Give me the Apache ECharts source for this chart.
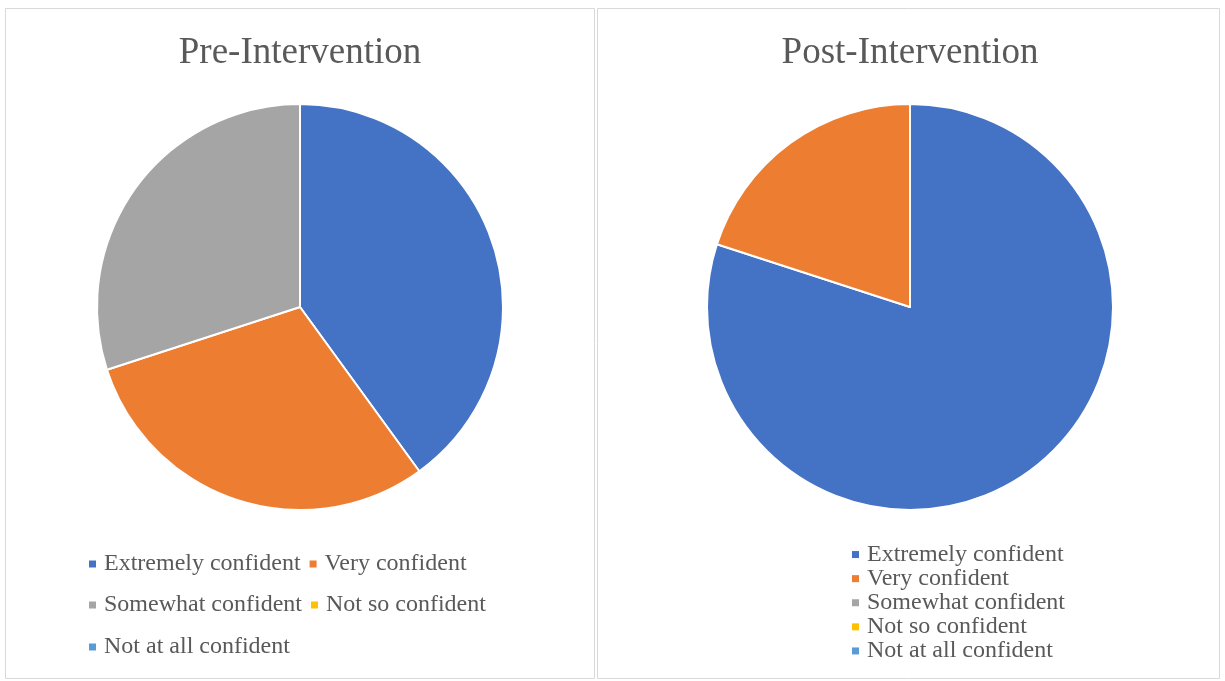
<!DOCTYPE html>
<html>
<head>
<meta charset="utf-8">
<script src="https://cdn.jsdelivr.net/npm/echarts@6/dist/echarts.min.js"></script>
<style>
  html, body { margin: 0; padding: 0; background: #ffffff; }
  #chart { width: 1225px; height: 681px; }
</style>
</head>
<body>
<div id="chart"></div>
<script>
// Confidence levels reported before and after the intervention (percent of respondents)
const categories = ['Extremely confident', 'Very confident', 'Somewhat confident', 'Not so confident', 'Not at all confident'];
const preValues = [40, 30, 30, 0, 0];
const postValues = [80, 20, 0, 0, 0];
const sliceColors = ['#4472C4', '#ED7D31', '#A5A5A5', '#FFC000', '#5B9BD5'];
const chartTitles = ['Pre-Intervention', 'Post-Intervention'];

const FONT = '"Liberation Serif", "Times New Roman", serif';
const TEXT_COLOR = '#595959';

function pieData(values) {
  return categories.map((name, i) => ({
    name: name,
    value: values[i],
    itemStyle: { color: sliceColors[i] }
  }));
}

function pieSeries(values, center) {
  return {
    type: 'pie',
    center: center,
    radius: 203,
    startAngle: 90,
    clockwise: true,
    avoidLabelOverlap: false,
    label: { show: false },
    labelLine: { show: false },
    emphasis: { disabled: true },
    itemStyle: { borderColor: '#ffffff', borderWidth: 2 },
    data: pieData(values)
  };
}

const legendText = { fontFamily: FONT, fontSize: 24, color: TEXT_COLOR, padding: [0, 0, 0, 3] };
function legendBlock(extra) {
  return Object.assign({
    icon: 'rect',
    itemWidth: 7,
    itemHeight: 7,
    itemStyle: { borderWidth: 0 },
    selectedMode: false,
    textStyle: Object.assign({}, legendText),
    padding: 0
  }, extra);
}

const titleText = { fontFamily: FONT, fontSize: 37, fontWeight: 'normal', color: TEXT_COLOR };

const chart = echarts.init(document.getElementById('chart'), null, { renderer: 'canvas' });

chart.setOption({
  animation: false,
  backgroundColor: '#ffffff',
  graphic: [
    { type: 'rect', shape: { x: 5.5, y: 8.5, width: 589, height: 670 },
      style: { fill: 'none', stroke: '#d9d9d9', lineWidth: 1 }, silent: true },
    { type: 'rect', shape: { x: 597.5, y: 8.5, width: 622, height: 670 },
      style: { fill: 'none', stroke: '#d9d9d9', lineWidth: 1 }, silent: true }
  ],
  title: [
    { text: chartTitles[0], left: 300, top: 35, padding: 0, textAlign: 'center', textStyle: titleText },
    { text: chartTitles[1], left: 910, top: 35, padding: 0, textAlign: 'center', textStyle: titleText }
  ],
  legend: [
    legendBlock({ data: categories.slice(0, 2), left: 89, top: 552, itemGap: 9 }),
    legendBlock({ data: categories.slice(2, 4), left: 89, top: 593, itemGap: 9 }),
    legendBlock({ data: categories.slice(4, 5), left: 89, top: 635, itemGap: 9 }),
    legendBlock({ data: categories, left: 852, top: 542.5, orient: 'vertical', itemGap: 0,
      textStyle: Object.assign({}, legendText, { lineHeight: 24.1 }) })
  ],
  series: [
    pieSeries(preValues, [300, 307]),
    pieSeries(postValues, [910, 307])
  ]
});
</script>
</body>
</html>
